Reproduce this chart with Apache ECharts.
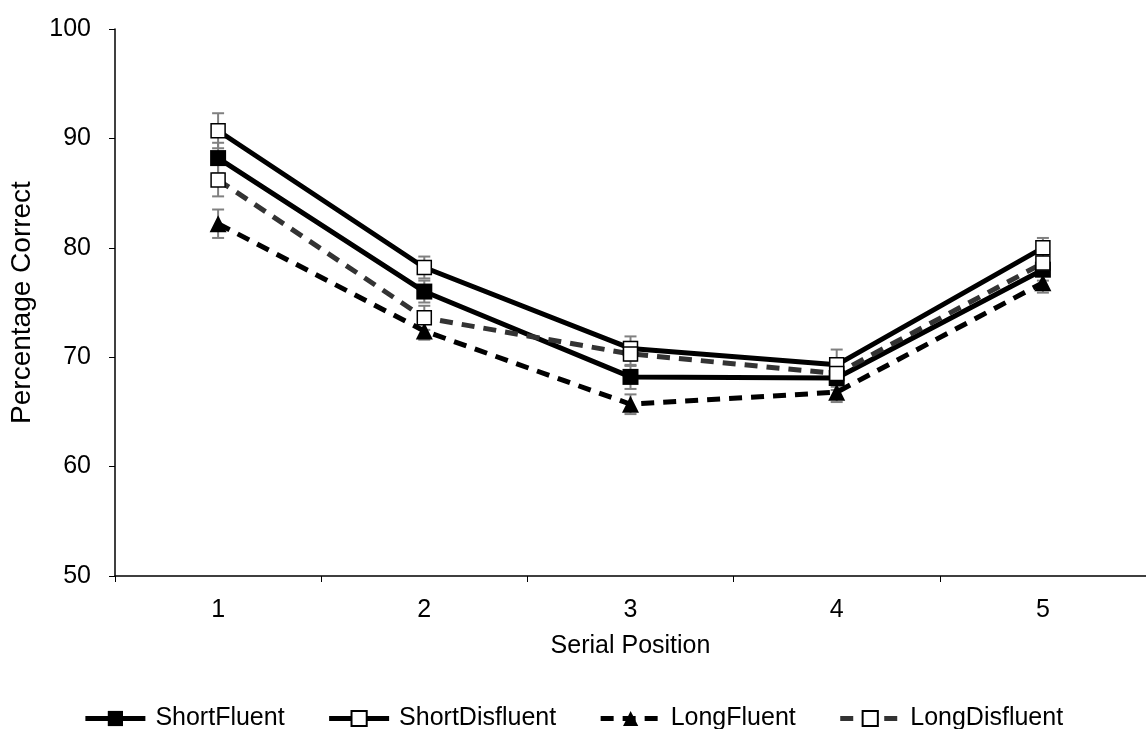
<!DOCTYPE html>
<html>
<head>
<meta charset="utf-8">
<script src="https://cdn.jsdelivr.net/npm/echarts@6/dist/echarts.min.js"></script>
<style>
  html, body { margin: 0; padding: 0; background: #fff; }
  #main { width: 1146px; height: 729px; }
</style>
</head>
<body>
<div id="main"></div>
<script>
var positions = ['1', '2', '3', '4', '5'];
var yTicks = [50, 60, 70, 80, 90, 100];

var shortFluent = [88.2, 76.0, 68.2, 68.1, 78.0];
var shortDisfluent = [90.7, 78.2, 70.8, 69.3, 80.0];
var longFluent = [82.2, 72.4, 65.7, 66.8, 76.8];
var longDisfluent = [86.2, 73.6, 70.3, 68.5, 78.6];

var shortFluentErr = [1.4, 1.0, 1.1, 1.1, 1.0];
var shortDisfluentErr = [1.6, 1.0, 1.1, 1.4, 0.9];
var longFluentErr = [1.3, 0.8, 0.9, 0.9, 0.9];
var longDisfluentErr = [1.5, 1.1, 1.1, 1.2, 1.0];

var font = 'Liberation Sans, Arial, sans-serif';
var myChart = echarts.init(document.getElementById('main'));

function errorSeries(vals, errs) {
    var data = vals.map(function (v, i) { return [i, v - errs[i], v + errs[i]]; });
    return {
        type: 'custom',
        z: 1,
        silent: true,
        data: data,
        renderItem: function (params, api) {
            var lo = api.coord([api.value(0), api.value(1)]);
            var hi = api.coord([api.value(0), api.value(2)]);
            var w = 6;
            var st = { stroke: '#808080', lineWidth: 2 };
            return {
                type: 'group',
                children: [
                    { type: 'line', shape: { x1: lo[0], y1: lo[1], x2: hi[0], y2: hi[1] }, style: st },
                    { type: 'line', shape: { x1: lo[0] - w, y1: lo[1], x2: lo[0] + w, y2: lo[1] }, style: st },
                    { type: 'line', shape: { x1: hi[0] - w, y1: hi[1], x2: hi[0] + w, y2: hi[1] }, style: st }
                ]
            };
        }
    };
}

function lineSeries(name, vals, color, dashed, symbol, fill, size) {
    return {
        name: name,
        type: 'line',
        z: 3,
        data: vals,
        symbol: symbol,
        symbolSize: size,
        showAllSymbol: true,
        animation: false,
        lineStyle: { color: color, width: 5, type: dashed ? [13, 9] : 'solid' },
        itemStyle: { color: fill, borderColor: '#000', borderWidth: fill === '#fff' ? 1.5 : 0, opacity: 1 },
        emphasis: { disabled: true }
    };
}

var option = {
    animation: false,
    grid: { left: 115, right: 0, top: 29, bottom: 153 },
    legend: {
        top: 701,
        left: 'center',
        itemWidth: 60,
        itemHeight: 19,
        itemGap: 42,
        lineStyle: { width: 5 },
        textStyle: { fontFamily: font, fontSize: 25, color: '#000', padding: [0, 0, 0, 5] },
        data: ['ShortFluent', 'ShortDisfluent', 'LongFluent', 'LongDisfluent']
    },
    xAxis: {
        type: 'category',
        data: positions,
        boundaryGap: true,
        name: 'Serial Position',
        nameLocation: 'middle',
        nameGap: 58,
        nameTextStyle: { fontFamily: font, fontSize: 25, color: '#000' },
        axisLine: { lineStyle: { color: '#000', width: 1.5 } },
        axisTick: { show: true, length: 6, lineStyle: { color: '#000' } },
        axisLabel: { margin: 22, fontFamily: font, fontSize: 25, color: '#000' },
        splitLine: { show: false }
    },
    yAxis: {
        type: 'value',
        min: yTicks[0],
        max: yTicks[yTicks.length - 1],
        interval: 10,
        name: 'Percentage Correct',
        nameLocation: 'middle',
        nameGap: 79,
        nameTextStyle: { fontFamily: font, fontSize: 28, color: '#000' },
        axisLine: { show: true, lineStyle: { color: '#000', width: 1.5 } },
        axisTick: { show: true, length: 6, lineStyle: { color: '#000' } },
        axisLabel: { margin: 24, fontFamily: font, fontSize: 25, color: '#000' },
        splitLine: { show: false }
    },
    series: [
        errorSeries(shortFluent, shortFluentErr),
        errorSeries(shortDisfluent, shortDisfluentErr),
        errorSeries(longFluent, longFluentErr),
        errorSeries(longDisfluent, longDisfluentErr),
        lineSeries('ShortFluent', shortFluent, '#000', false, 'rect', '#000', 16),
        lineSeries('ShortDisfluent', shortDisfluent, '#000', false, 'rect', '#fff', 14),
        lineSeries('LongFluent', longFluent, '#000', true, 'triangle', '#000', 17),
        lineSeries('LongDisfluent', longDisfluent, '#333', true, 'rect', '#fff', 14)
    ]
};

if (option && typeof option === 'object') {
    myChart.setOption(option, true);
}
</script>
</body>
</html>
